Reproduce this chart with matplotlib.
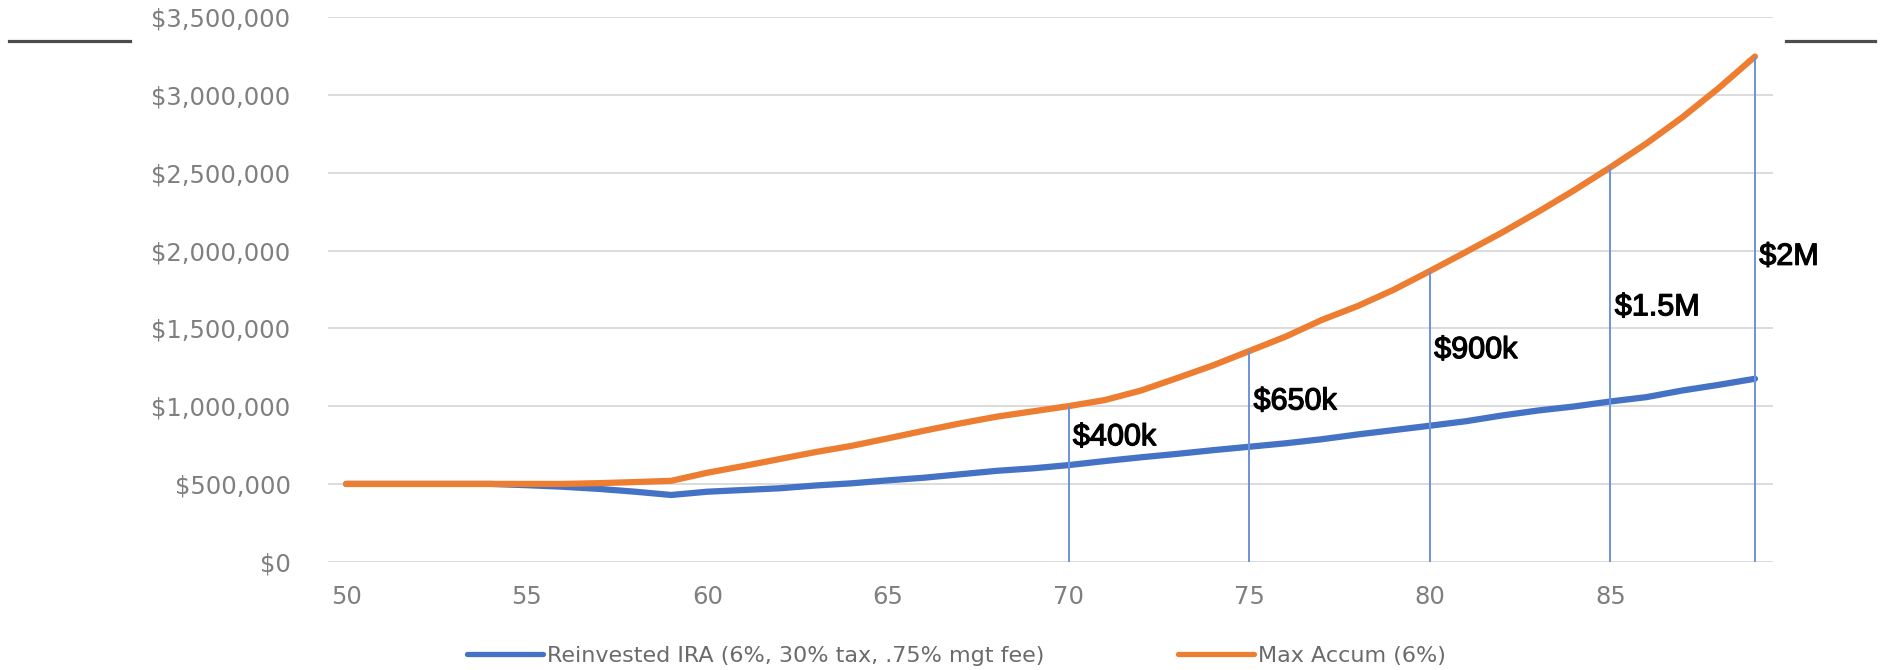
import matplotlib
matplotlib.use('Agg')
import matplotlib.pyplot as plt
import matplotlib.patheffects as pe
from matplotlib.lines import Line2D
from matplotlib.ticker import FuncFormatter

# ages on the category axis
years = list(range(50, 90))

# Max Accum (6%)
max_accum = [500000, 500000, 500000, 500000, 500000, 500000, 500000, 505000, 512000, 520000,
             572000, 615000, 660000, 705000, 745000, 793000, 842000, 889000, 932000, 966000,
             1000000, 1039000, 1100000, 1180000, 1262000, 1354000, 1446000, 1553000, 1643000, 1748000,
             1868000, 1991000, 2116000, 2249000, 2388000, 2535000, 2689000, 2858000, 3045000, 3247000]

# Reinvested IRA (6%, 30% tax, .75% mgt fee)
reinvested = [500000, 500000, 500000, 500000, 500000, 492000, 482000, 468000, 450000, 429000,
              450000, 461000, 472000, 490000, 504000, 523000, 540000, 562000, 584000, 600000,
              621000, 647000, 671000, 693000, 717000, 739000, 761000, 787000, 818000, 846000,
              874000, 903000, 940000, 972000, 998000, 1030000, 1058000, 1101000, 1137000, 1176000]

# hand-drawn gap markers
gap_years = [70, 75, 80, 85, 89]
gap_labels = ['$400k', '$650k', '$900k', '$1.5M', '$2M']
gap_label_y = [800000, 1030000, 1360000, 1635000, 1960000]

x_ticks = [50, 55, 60, 65, 70, 75, 80, 85]
y_ticks = [0, 500000, 1000000, 1500000, 2000000, 2500000, 3000000, 3500000]

blue = '#4472C4'
orange = '#ED7D31'
tick_gray = '#7f7f7f'

fig = plt.figure(figsize=(18.83, 6.70), dpi=100)
ax = fig.add_axes([0.1742, 0.1616, 0.7674, 0.8128])

ax.plot(years, reinvested, color=blue, lw=4.5, solid_capstyle='round', solid_joinstyle='round', zorder=3,
        label='Reinvested IRA (6%, 30% tax, .75% mgt fee)')
ax.plot(years, max_accum, color=orange, lw=4.5, solid_capstyle='round', solid_joinstyle='round', zorder=4,
        label='Max Accum (6%)')

tops = [max_accum[years.index(y)] for y in gap_years]
ax.vlines(gap_years, 0, tops, color='#6d93dc', lw=1.4, zorder=5)
for yr, lab, ly in zip(gap_years, gap_labels, gap_label_y):
    ax.text(yr + 0.12, ly, lab, fontsize=22, family='Liberation Sans', color='black',
            ha='left', va='center', zorder=6,
            path_effects=[pe.withStroke(linewidth=0.9, foreground='black')])

ax.set_xlim(49.5, 89.5)
ax.set_ylim(0, 3500000)
ax.set_xticks(x_ticks)
ax.set_yticks(y_ticks)
ax.yaxis.set_major_formatter(FuncFormatter(lambda v, p: '${:,.0f}'.format(v)))
ax.tick_params(axis='both', length=0, labelsize=17.5, labelcolor=tick_gray)
ax.tick_params(axis='y', pad=27)
ax.tick_params(axis='x', pad=17)
ax.grid(axis='y', color='#d9d9d9', lw=1.3)
ax.set_axisbelow(True)
for s in ax.spines.values():
    s.set_visible(False)

handles = [Line2D([], [], color=blue, lw=3.8, solid_capstyle='round'),
           Line2D([], [], color=orange, lw=3.8, solid_capstyle='round')]
fig.legend(handles, ['Reinvested IRA (6%, 30% tax, .75% mgt fee)', 'Max Accum (6%)'],
           loc='center', bbox_to_anchor=(0.508, 0.021), ncol=2, frameon=False,
           fontsize=16, labelcolor='#6b6b6b', handlelength=3.4, handletextpad=0.2,
           columnspacing=6.0, borderpad=0)

# stray dark strokes at the top corners
fig.add_artist(Line2D([9 / 1883, 130 / 1883], [0.9388, 0.9388], color='#4a4d50', lw=2.3,
                      transform=fig.transFigure))
fig.add_artist(Line2D([1786 / 1883, 1875 / 1883], [0.9388, 0.9388], color='#4a4d50', lw=2.3,
                      transform=fig.transFigure))

fig.savefig('out.png', dpi=100)
